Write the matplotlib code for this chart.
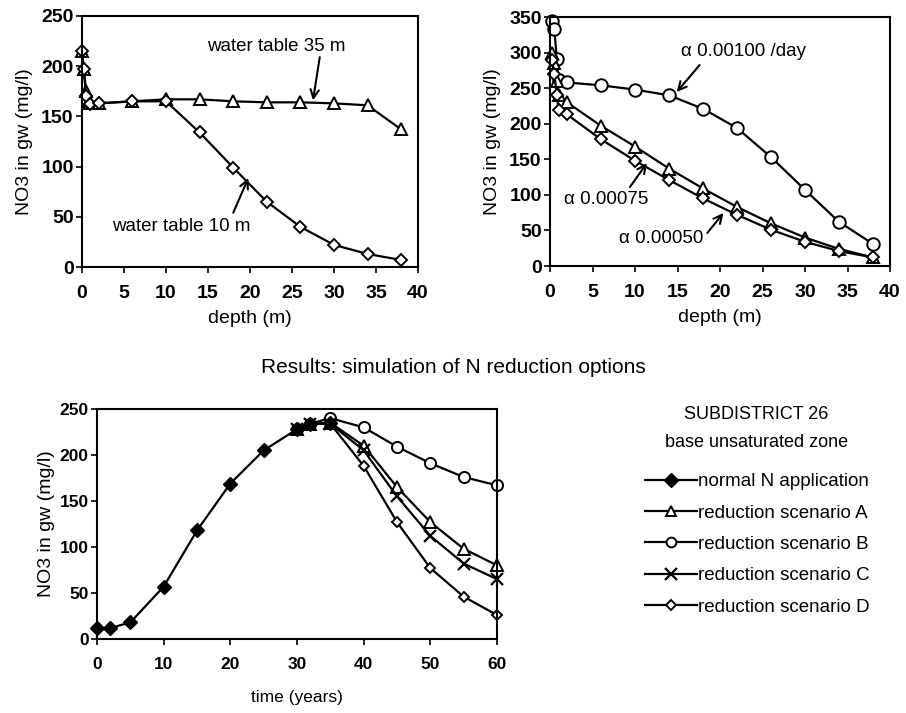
import matplotlib
matplotlib.use("Agg")
import matplotlib.pyplot as plt
from matplotlib.lines import Line2D

plt.rcParams['font.family'] = ['Liberation Sans', 'DejaVu Sans']

# ---- Top-left: water table depth ----
depth_35 = [0, 0.2, 0.5, 0.8, 1, 2, 6, 10, 14, 18, 22, 26, 30, 34, 38]
no3_35 = [215, 197, 175, 165, 163, 163, 165, 167, 167, 165, 164, 164, 163, 161, 137]
depth_10 = [0, 0.2, 0.5, 1, 2, 6, 10, 14, 18, 22, 26, 30, 34, 38]
no3_10 = [215, 197, 170, 162, 163, 165, 165, 134, 99, 65, 40, 22, 13, 7]

# ---- Top-right: decay rate alpha ----
depth_a = [0.2, 0.5, 0.8, 1, 2, 6, 10, 14, 18, 22, 26, 30, 34, 38]
no3_a100 = [345, 333, 291, 262, 258, 254, 248, 240, 221, 194, 153, 107, 62, 31]
no3_a075 = [300, 285, 260, 240, 230, 197, 168, 137, 109, 83, 60, 40, 24, 12]
no3_a050 = [290, 270, 240, 220, 213, 178, 148, 121, 95, 72, 51, 34, 21, 12]

# ---- Bottom: N reduction scenarios ----
t_normal = [0, 2, 5, 10, 15, 20, 25, 30, 32, 35]
no3_normal = [12, 12, 18, 57, 118, 169, 205, 228, 234, 235]
t_scen = [30, 32, 35, 40, 45, 50, 55, 60]
no3_A = [228, 234, 235, 210, 165, 127, 98, 80]
no3_B = [228, 234, 240, 230, 209, 191, 176, 167]
no3_C = [228, 234, 234, 205, 155, 112, 82, 65]
no3_D = [228, 234, 234, 188, 127, 77, 46, 26]

scenario_labels = ['normal N application', 'reduction scenario A', 'reduction scenario B',
                   'reduction scenario C', 'reduction scenario D']

lw = 1.6
mk_kw = dict(markerfacecolor='white', markeredgecolor='black', markeredgewidth=1.4)

fig = plt.figure(figsize=(9.06, 7.13), dpi=100)


def style(ax, xt, yt, xl, tfs, lfs, xlfs, xpad, xlpad, ylpad):
    ax.set_xticks(xt)
    ax.set_yticks(yt)
    ax.set_xticklabels([str(v) for v in xt], fontsize=tfs, fontweight='bold')
    ax.set_yticklabels([str(v) for v in yt], fontsize=tfs, fontweight='bold')
    ax.tick_params(direction='out', length=4, width=1.2, pad=2)
    ax.tick_params(axis='x', pad=xpad)
    for s in ax.spines.values():
        s.set_linewidth(1.5)
    ax.set_xlabel(xl, fontsize=xlfs, labelpad=xlpad)
    ax.set_ylabel('NO3 in gw (mg/l)', fontsize=lfs, labelpad=ylpad)


arrow = dict(arrowstyle='->', color='black', lw=1.5, mutation_scale=15,
             shrinkA=0, shrinkB=0)
ann_fs = 13.5

# Top-left
ax1 = fig.add_axes([0.0905, 0.6255, 0.3709, 0.3521])
ax1.plot(depth_35, no3_35, color='black', lw=lw, marker='^', markersize=9, clip_on=False, **mk_kw)
ax1.plot(depth_10, no3_10, color='black', lw=lw, marker='D', markersize=6.5, clip_on=False, **mk_kw)
ax1.set_xlim(0, 40)
ax1.set_ylim(0, 250)
style(ax1, list(range(0, 41, 5)), list(range(0, 251, 50)), 'depth (m)', 14, 14, 14, 9, 6, 6)
ax1.text(23.1, 220, 'water table 35 m', fontsize=ann_fs, ha='center', va='center')
ax1.annotate('', xy=(27.5, 166), xytext=(28.3, 209), arrowprops=arrow)
ax1.text(11.8, 40, 'water table 10 m', fontsize=ann_fs, ha='center', va='center')
ax1.annotate('', xy=(19.8, 88.6), xytext=(18.0, 54), arrowprops=arrow)

# Top-right
ax2 = fig.add_axes([0.6071, 0.6269, 0.3753, 0.3492])
ax2.plot(depth_a, no3_a100, color='black', lw=lw, marker='o', markersize=9, clip_on=False, **mk_kw)
ax2.plot(depth_a, no3_a075, color='black', lw=lw, marker='^', markersize=8, clip_on=False, **mk_kw)
ax2.plot(depth_a, no3_a050, color='black', lw=lw, marker='D', markersize=6.5, clip_on=False, **mk_kw)
ax2.set_xlim(0, 40)
ax2.set_ylim(0, 350)
style(ax2, list(range(0, 41, 5)), list(range(0, 351, 50)), 'depth (m)', 14, 14, 14, 9, 6, 6)
ax2.text(22.8, 301, 'α 0.00100 /day', fontsize=ann_fs, ha='center', va='center')
ax2.annotate('', xy=(14.9, 244.6), xytext=(17.6, 282.5), arrowprops=arrow)
ax2.text(6.65, 93, 'α 0.00075', fontsize=ann_fs, ha='center', va='center')
ax2.annotate('', xy=(11.4, 144.8), xytext=(9.4, 111), arrowprops=arrow)
ax2.text(13.1, 38, 'α 0.00050', fontsize=ann_fs, ha='center', va='center')
ax2.annotate('', xy=(20.4, 74.5), xytext=(18.5, 46.4), arrowprops=arrow)

# Bottom
ax3 = fig.add_axes([0.1071, 0.1038, 0.4415, 0.3226])
ax3.plot(t_scen, no3_A, color='black', lw=lw, marker='^', markersize=8, clip_on=False, **mk_kw)
ax3.plot(t_scen, no3_B, color='black', lw=lw, marker='o', markersize=8, clip_on=False, **mk_kw)
ax3.plot(t_scen, no3_C, color='black', lw=lw, marker='x', markersize=9, markeredgewidth=1.6,
         markeredgecolor='black', clip_on=False)
ax3.plot(t_scen, no3_D, color='black', lw=lw, marker='D', markersize=5.5, clip_on=False, **mk_kw)
ax3.plot(t_normal, no3_normal, color='black', lw=lw, marker='D', markersize=7.5,
         markerfacecolor='black', markeredgecolor='black', clip_on=False)
ax3.set_xlim(0, 60)
ax3.set_ylim(0, 250)
style(ax3, list(range(0, 61, 10)), list(range(0, 251, 50)), 'time (years)', 12.5, 14, 12.5, 9, 13, 3)

fig.text(0.5, 0.484, 'Results: simulation of N reduction options', fontsize=15,
         ha='center', va='center')
fig.text(0.835, 0.418, 'SUBDISTRICT 26', fontsize=13, ha='center', va='center')
fig.text(0.835, 0.380, 'base unsaturated zone', fontsize=13, ha='center', va='center')

handles = [
    Line2D([], [], color='black', lw=lw, marker='D', markersize=7, markerfacecolor='black'),
    Line2D([], [], color='black', lw=lw, marker='^', markersize=7.5, **mk_kw),
    Line2D([], [], color='black', lw=lw, marker='o', markersize=7, **mk_kw),
    Line2D([], [], color='black', lw=lw, marker='x', markersize=8.5, markeredgewidth=1.6),
    Line2D([], [], color='black', lw=lw, marker='D', markersize=5, **mk_kw),
]
fig.legend(handles, scenario_labels, loc='upper left', bbox_to_anchor=(0.712, 0.3366),
           frameon=False, fontsize=13.5, handlelength=2.77, handletextpad=0.05,
           labelspacing=0.76, borderaxespad=0, borderpad=0)

fig.savefig('out.png', dpi=100)
